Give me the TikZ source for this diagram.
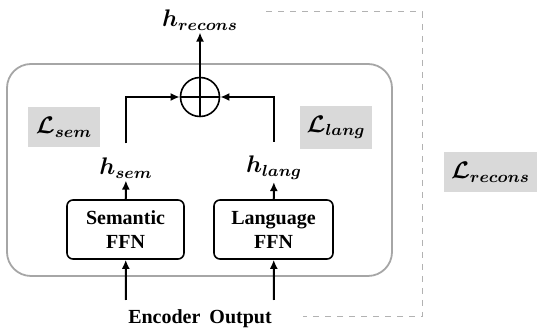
\documentclass[tikz,border=0pt]{standalone}
\usepackage{amsmath,amssymb}
\usepackage{bm}
\usepackage{fontspec}
\setmainfont{Liberation Serif}
\usetikzlibrary{arrows.meta,positioning}

\tikzset{
  ffn/.style={draw,rounded corners=3pt,line width=0.8pt,minimum width=58.5pt,
    minimum height=29.5pt,align=center,font=\bfseries,inner sep=1pt},
  mathlbl/.style={inner sep=1pt,font=\fontsize{12}{14}\selectfont\boldmath},
  lossbox/.style={mathlbl,fill=gray!30,minimum height=20pt,inner sep=2pt},
  arr/.style={line width=1pt,-{Latex[length=4.5pt,width=4pt]}},
  dashbrace/.style={gray!60,dashed,line width=0.5pt}
}

\begin{document}
\begin{tikzpicture}[x=0.5pt,y=-0.5pt]
  \useasboundingbox (0,0) rectangle (537,336);

  % Outer block
  \draw[gray!70,line width=0.9pt,rounded corners=12pt] (7,64) rectangle (392,276);

  % Nodes
  \node[ffn] (sem) at (125.5,229.5) {Semantic\\FFN};
  \node[ffn,minimum width=59.5pt] (lang) at (273.5,229.5) {Language\\FFN};
  \node[mathlbl] (hsem) at (126,168) {$h_{sem}$};
  \node[mathlbl] (hlang) at (274,168) {$h_{lang}$};
  \node[draw,circle,line width=0.8pt,minimum size=19.5pt] (plus) at (200,97) {};
  \node[mathlbl] (hrec) at (200,20) {$h_{recons}$};
  \node (enc) at (200,319) {\bfseries Encoder\hspace{0.45em}Output};

  \node[lossbox,minimum width=36pt] (lsem) at (64,127) {$\mathcal{L}_{sem}$};
  \node[lossbox,minimum width=36pt,minimum height=21.5pt] (llang) at (336,127.5) {$\mathcal{L}_{lang}$};
  \node[lossbox,minimum width=46.5pt] (lrec) at (490.5,172) {$\mathcal{L}_{recons}$};

  \coordinate (insem) at (126,300);
  \coordinate (inlang) at (274,300);
  \coordinate (dtop) at (266,12);
  \coordinate (dbot) at (303,317);

  % Edges
  \draw[line width=0.8pt] (plus.west) -- (plus.east) (plus.north) -- (plus.south);
  \draw[arr] (insem) -- (sem);
  \draw[arr] (inlang) -- (lang);
  \draw[arr] (sem) -- (hsem);
  \draw[arr] (lang) -- (hlang);
  \draw[arr] ([yshift=6pt]hsem.north) |- (plus);
  \draw[arr] ([yshift=6pt]hlang.north) |- (plus);
  \draw[arr] (plus) -- (hrec);

  % Reconstruction bracket
  \draw[dashbrace] (dtop) -- ++(156,0) |- (dbot);
\end{tikzpicture}
\end{document}
